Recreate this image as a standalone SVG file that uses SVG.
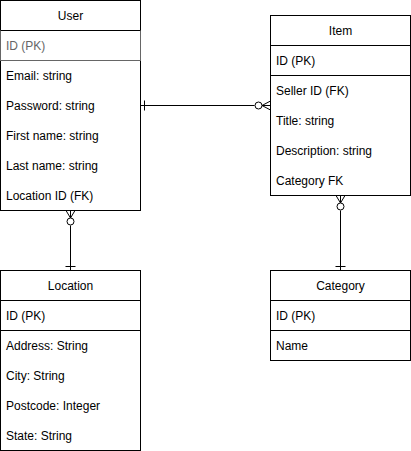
<svg xmlns="http://www.w3.org/2000/svg" width="411" height="451" viewBox="0 0 411 451">
<style>
.box{fill:#fff;stroke:#000;stroke-width:1}
.sep{stroke:#000;stroke-width:1;fill:none}
.t{font-family:"Liberation Sans",Arial,sans-serif;font-size:12px;fill:#000}
.h{text-anchor:middle}
.dim{fill:#666}
.conn line,.conn path{stroke:#000;stroke-width:1;fill:none}
.conn circle{stroke:#000;stroke-width:1;fill:#fff}
</style>
<rect width="411" height="451" fill="#fff"/>
<g id="user">
<rect class="box" x="0.5" y="0.5" width="140" height="210"/>
<rect x="0.5" y="30.5" width="140" height="30" fill="none" stroke="#666"/>
<line class="sep" x1="0.5" y1="30.5" x2="140.5" y2="30.5"/>
<text class="t h" x="70.5" y="20">User</text>
<text class="t dim" x="6" y="50">ID (PK)</text>
<text class="t" x="6" y="80">Email: string</text>
<text class="t" x="6" y="110">Password: string</text>
<text class="t" x="6" y="140">First name: string</text>
<text class="t" x="6" y="170">Last name: string</text>
<text class="t" x="6" y="200">Location ID (FK)</text>
</g>
<g id="item">
<rect class="box" x="270.5" y="15.5" width="140" height="180"/>
<line class="sep" x1="270.5" y1="45.5" x2="410.5" y2="45.5"/>
<line class="sep" x1="270.5" y1="75.5" x2="410.5" y2="75.5"/>
<text class="t h" x="340.5" y="35">Item</text>
<text class="t" x="276" y="65">ID (PK)</text>
<text class="t" x="276" y="95">Seller ID (FK)</text>
<text class="t" x="276" y="125">Title: string</text>
<text class="t" x="276" y="155">Description: string</text>
<text class="t" x="276" y="185">Category FK</text>
</g>
<g id="location">
<rect class="box" x="0.5" y="270.5" width="140" height="180"/>
<line class="sep" x1="0.5" y1="300.5" x2="140.5" y2="300.5"/>
<line class="sep" x1="0.5" y1="330.5" x2="140.5" y2="330.5"/>
<text class="t h" x="70.5" y="290">Location</text>
<text class="t" x="6" y="320">ID (PK)</text>
<text class="t" x="6" y="350">Address: String</text>
<text class="t" x="6" y="380">City: String</text>
<text class="t" x="6" y="410">Postcode: Integer</text>
<text class="t" x="6" y="440">State: String</text>
</g>
<g id="category">
<rect class="box" x="270.5" y="270.5" width="140" height="90"/>
<line class="sep" x1="270.5" y1="300.5" x2="410.5" y2="300.5"/>
<line class="sep" x1="270.5" y1="330.5" x2="410.5" y2="330.5"/>
<text class="t h" x="340.5" y="290">Category</text>
<text class="t" x="276" y="320">ID (PK)</text>
<text class="t" x="276" y="350">Name</text>
</g>
<g id="connectors" class="conn">
<line x1="140.5" y1="105.5" x2="254.5" y2="105.5"/>
<line x1="144.5" y1="100.5" x2="144.5" y2="110.5"/>
<circle cx="258.5" cy="105.5" r="3.5"/>
<path d="M262 105.5 L270.5 105.5 M270.5 101 L262 105.5 L270.5 110"/>
<line x1="70.5" y1="225.5" x2="70.5" y2="270.5"/>
<line x1="65.5" y1="266.5" x2="75.5" y2="266.5"/>
<circle cx="70.5" cy="221.5" r="3.5"/>
<path d="M70.5 218 L70.5 210.5 M66 210.5 L70.5 218 L75 210.5"/>
<line x1="340.5" y1="210.5" x2="340.5" y2="270.5"/>
<line x1="335.5" y1="266.5" x2="345.5" y2="266.5"/>
<circle cx="340.5" cy="206.5" r="3.5"/>
<path d="M340.5 203 L340.5 195.5 M336 195.5 L340.5 203 L345 195.5"/>
</g>
</svg>
